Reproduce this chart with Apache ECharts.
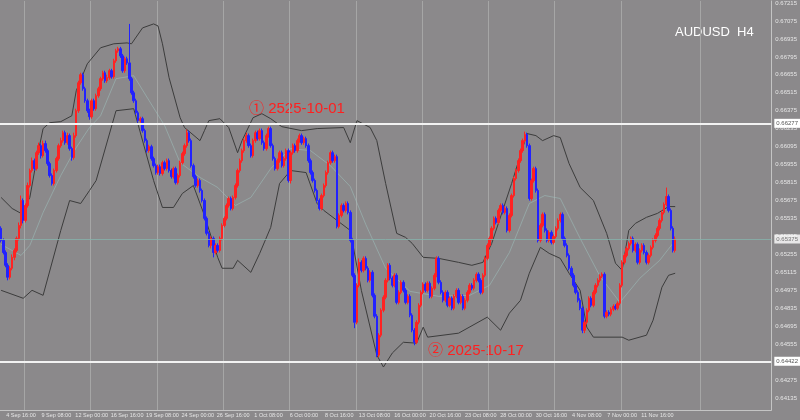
<!DOCTYPE html>
<html><head><meta charset="utf-8">
<script src="https://cdn.jsdelivr.net/npm/echarts@6/dist/echarts.min.js"></script>
<style>html,body{margin:0;padding:0;background:#8b898b}#c{width:800px;height:420px}</style>
</head><body><div id="c"></div>
<script>
// AUDUSD H4 candles, prices in units of 0.00001
const opens = [
65458,65364,65270,65170,65077,65147,65232,65286,65380,65481,
65675,65520,65636,65792,65909,65986,65924,66048,66103,66025,
66119,66064,65963,65870,65808,65909,66002,66103,66142,66204,
66126,66181,66080,66010,66181,66375,66593,66656,66547,66453,
66375,66328,66453,66391,66492,66547,66625,66671,66609,66633,
66687,66640,66764,66842,66858,66803,66687,66780,66748,66625,
66515,66453,66359,66298,66313,66220,66142,66064,66095,66002,
65947,65893,65939,65886,65970,65924,65986,65909,65862,65924,
65815,65870,65970,66041,66103,66204,66142,65947,65862,65792,
65831,65753,65675,65536,65419,65325,65380,65270,65325,65286,
65380,65481,65536,65636,65691,65613,65699,65792,65909,65986,
66064,66142,66181,66103,66025,66142,66204,66158,66220,66126,
66080,66181,66236,66103,66002,65924,65986,66048,65947,66002,
66064,65831,66048,66103,66064,66142,66181,66126,66158,66103,
65986,65893,65831,65753,65675,65613,65714,65792,65893,65970,
66048,65986,66017,65473,65559,65636,65598,65652,65582,65364,
65092,64726,65014,65193,65131,65224,65147,65053,65115,64936,
64773,64470,64625,64820,64921,65053,65170,65069,65014,65092,
64881,64959,65037,64975,64881,64928,64781,64664,64570,64726,
64858,64959,65022,64975,65030,64928,64991,65092,65224,65037,
64959,64897,64959,64858,64913,64835,64928,64975,64881,64928,
64835,64897,64959,65014,64991,65053,65100,65053,64959,65092,
65224,65325,65380,65458,65536,65504,65598,65636,65582,65613,
65442,65559,65714,65847,65909,65986,66064,66142,66189,66103,
65691,65831,65924,65753,65364,65481,65567,65442,65364,65426,
65348,65395,65458,65520,65567,65380,65325,65247,65147,65092,
65014,64959,64897,64835,64664,64726,64820,64913,64858,64959,
65014,65053,65084,65100,64773,64804,64789,64827,64850,64835,
64874,65014,65193,65247,65302,65341,65380,65286,65333,65193,
65286,65325,65270,65193,65247,65310,65364,65403,65458,65520,
65582,65644,65706,65598,65458,65286];
const closes = [
65364,65270,65170,65077,65147,65232,65286,65380,65481,65675,
65520,65636,65792,65909,65986,65924,66048,66103,66025,66119,
66064,65963,65870,65808,65909,66002,66103,66142,66204,66126,
66181,66080,66010,66181,66375,66593,66656,66547,66453,66375,
66328,66453,66391,66492,66547,66625,66671,66609,66633,66687,
66640,66764,66842,66858,66803,66687,66780,66748,66625,66515,
66453,66359,66298,66313,66220,66142,66064,66095,66002,65947,
65893,65939,65886,65970,65924,65986,65909,65862,65924,65815,
65870,65970,66041,66103,66204,66142,65947,65862,65792,65831,
65753,65675,65536,65419,65325,65380,65270,65325,65286,65380,
65481,65536,65636,65691,65613,65699,65792,65909,65986,66064,
66142,66181,66103,66025,66142,66204,66158,66220,66126,66080,
66181,66236,66103,66002,65924,65986,66048,65947,66002,66064,
65831,66048,66103,66064,66142,66181,66126,66158,66103,65986,
65893,65831,65753,65675,65613,65714,65792,65893,65970,66048,
65986,66017,65473,65559,65636,65598,65652,65582,65364,65092,
64726,65014,65193,65131,65224,65147,65053,65115,64936,64773,
64470,64625,64820,64921,65053,65170,65069,65014,65092,64881,
64959,65037,64975,64881,64928,64781,64664,64570,64726,64858,
64959,65022,64975,65030,64928,64991,65092,65224,65037,64959,
64897,64959,64858,64913,64835,64928,64975,64881,64928,64835,
64897,64959,65014,64991,65053,65100,65053,64959,65092,65224,
65325,65380,65458,65536,65504,65598,65636,65582,65613,65442,
65559,65714,65847,65909,65986,66064,66142,66189,66103,65691,
65831,65924,65753,65364,65481,65567,65442,65364,65426,65348,
65395,65458,65520,65567,65380,65325,65247,65147,65092,65014,
64959,64897,64835,64664,64726,64820,64913,64858,64959,65014,
65053,65084,65100,64773,64804,64789,64827,64850,64835,64874,
65014,65193,65247,65302,65341,65380,65286,65333,65193,65286,
65325,65270,65193,65247,65310,65364,65403,65458,65520,65582,
65644,65706,65598,65458,65286,65375];
const highs = [
65474,65380,65286,65186,65163,65255,65302,65395,65504,65714,
65691,65652,65815,65924,66010,66002,66064,66126,66119,66142,
66142,66080,65978,65886,65924,66017,66119,66165,66220,66220,
66204,66197,66095,66204,66391,66609,66671,66671,66562,66469,
66391,66469,66469,66508,66562,66640,66687,66687,66656,66702,
66702,66780,66858,66873,66873,66818,66796,66796,67052,66640,
66531,66469,66375,66328,66328,66235,66158,66110,66110,66017,
65963,65955,65955,65986,65986,66002,66002,65924,65939,65939,
65886,65986,66056,66119,66228,66220,66158,65963,65877,65846,
65846,65768,65691,65551,65434,65395,65395,65341,65341,65395,
65497,65551,65652,65706,65706,65714,65808,65924,66002,66080,
66158,66204,66197,66119,66158,66220,66220,66236,66236,66142,
66197,66251,66251,66119,66017,66002,66064,66064,66017,66080,
66080,66064,66119,66119,66158,66197,66197,66173,66173,66119,
66002,65909,65846,65768,65691,65729,65808,65909,65986,66064,
66064,66033,66033,65575,65652,65652,65668,65668,65598,65380,
65108,65030,65224,65209,65240,65240,65163,65131,65131,64951,
64789,64641,64835,64936,65069,65186,65186,65084,65108,65108,
64975,65053,65053,64991,64944,64944,64796,64680,64742,64874,
64975,65037,65037,65045,65045,65006,65108,65240,65240,65053,
64975,64975,64975,64928,64928,64944,64991,64991,64944,64944,
64913,64975,65030,65030,65069,65115,65115,65069,65108,65240,
65341,65395,65474,65551,65551,65613,65652,65652,65629,65629,
65575,65729,65862,65924,66002,66080,66158,66212,66204,66119,
65846,65939,65939,65768,65497,65582,65582,65458,65442,65442,
65411,65474,65536,65582,65582,65395,65341,65263,65163,65108,
65030,64975,64913,64851,64742,64835,64928,64928,64975,65030,
65069,65100,65115,65115,64820,64820,64843,64866,64866,64889,
65030,65209,65263,65318,65356,65395,65395,65348,65348,65302,
65341,65341,65286,65263,65325,65380,65419,65474,65536,65598,
65660,65776,65722,65613,65474,65395];
const lows = [
65348,65255,65155,65053,65060,65131,65209,65270,65364,65458,
65497,65504,65620,65776,65893,65909,65909,66033,66002,66010,
66048,65947,65854,65792,65792,65893,65986,66087,66126,66110,
66110,66064,65986,65994,66165,66359,66578,66531,66437,66359,
66305,66313,66375,66375,66477,66531,66609,66593,66593,66617,
66625,66625,66749,66827,66787,66671,66671,66733,66609,66500,
66437,66344,66282,66282,66204,66126,66048,66048,65986,65932,
65877,65877,65870,65870,65909,65909,65893,65846,65846,65800,
65800,65854,65955,66025,66087,66126,65932,65846,65776,65776,
65737,65660,65520,65403,65310,65302,65232,65255,65270,65270,
65364,65466,65520,65620,65598,65598,65683,65776,65893,65970,
66048,66126,66087,66010,66010,66126,66142,66142,66110,66064,
66064,66165,66087,65986,65909,65909,65970,65932,65932,65986,
65815,65808,66033,66048,66048,66126,66110,66110,66087,65970,
65877,65815,65737,65660,65598,65598,65699,65776,65877,65955,
65970,65970,65458,65458,65544,65582,65582,65567,65348,65077,
64680,64710,64998,65115,65115,65131,65037,65037,64920,64757,
64454,64454,64609,64804,64905,65037,65053,64998,64998,64866,
64866,64944,64959,64866,64866,64765,64648,64547,64555,64710,
64843,64944,64959,64959,64913,64913,64975,65077,65022,64944,
64881,64881,64843,64843,64820,64820,64913,64866,64866,64820,
64820,64881,64944,64975,64975,65037,65037,64944,64944,65077,
65209,65310,65364,65442,65489,65489,65582,65567,65567,65426,
65426,65544,65699,65831,65893,65970,66048,66126,66087,65675,
65675,65815,65737,65348,65348,65466,65426,65348,65348,65333,
65333,65380,65442,65504,65364,65310,65232,65131,65077,64998,
64944,64881,64820,64641,64641,64710,64804,64843,64843,64944,
64998,65037,65069,64757,64757,64773,64773,64812,64820,64820,
64858,64998,65177,65232,65286,65325,65270,65270,65177,65177,
65270,65255,65177,65177,65232,65294,65348,65388,65442,65504,
65567,65629,65582,65442,65270,65270];

// Bollinger bands: [bar index, price x 100000]
const upperBand = [[0,65699],[5,65613],[9,65575],[13,65699],[16,65986],[19,66236],[22,66282],[27,66290],[32,66336],[34,66531],[39,66741],[45,66866],[51,66897],[57,66904],[59,66897],[64,67021],[69,67052],[71,67036],[73,66897],[76,66633],[81,66321],[83,66244],[90,66142],[92,66220],[94,66298],[99,66313],[103,66244],[107,66048],[109,66142],[114,66321],[118,66352],[122,66313],[127,66251],[136,66220],[143,66236],[155,66244],[158,66126],[161,66298],[167,66244],[170,66142],[174,65808],[179,65419],[183,65388],[186,65341],[191,65232],[198,65224],[207,65193],[213,65170],[218,65193],[222,65341],[231,65808],[238,66197],[242,66181],[245,66142],[250,66181],[253,66166],[257,65963],[262,65777],[268,65675],[274,65419],[278,65186],[281,65131],[284,65442],[287,65497],[292,65544],[297,65575],[302,65628],[305,65628]];
const middleBand = [[0,65333],[9,65247],[13,65325],[19,65582],[27,65870],[34,66088],[40,66244],[45,66336],[52,66625],[60,66648],[67,66453],[74,66259],[81,65970],[90,65855],[98,65777],[106,65636],[113,65699],[122,65924],[131,66080],[140,66064],[149,65947],[158,65784],[165,65489],[174,65147],[185,64967],[198,64928],[212,64936],[221,65014],[230,65270],[239,65652],[246,65714],[253,65691],[262,65380],[271,65084],[280,64881],[289,65069],[298,65209],[305,65364]];
const lowerBand = [[0,64975],[10,64913],[14,64975],[19,64936],[27,65442],[31,65675],[36,65652],[40,65753],[43,65831],[52,66375],[60,66391],[69,65831],[73,65621],[78,65621],[82,65730],[87,65792],[92,65559],[98,65232],[100,65147],[105,65147],[107,65209],[113,65115],[117,65263],[122,65466],[126,65808],[131,65909],[138,65893],[143,65652],[146,65598],[158,65442],[163,64975],[170,64470],[173,64377],[177,64486],[182,64570],[188,64563],[191,64688],[193,64610],[207,64641],[220,64766],[226,64664],[230,64797],[235,64897],[239,65108],[244,65310],[248,65263],[253,65224],[257,65108],[262,64975],[265,64688],[268,64610],[281,64610],[284,64586],[292,64625],[295,64742],[299,64999],[302,65092],[305,65108]];

const priceTicks = [0.64135,0.64275,0.64415,0.64555,0.64695,0.64835,0.64975,0.65115,0.65255,0.65395,0.65535,0.65675,0.65815,0.65955,0.66095,0.66235,0.66375,0.66515,0.66655,0.66795,0.66935,0.67075,0.67215];
const timeLabels = ['4 Sep 16:00','9 Sep 08:00','12 Sep 00:00','16 Sep 16:00','19 Sep 08:00','24 Sep 00:00','26 Sep 16:00','1 Oct 08:00','6 Oct 00:00','8 Oct 16:00','13 Oct 08:00','16 Oct 00:00','20 Oct 16:00','23 Oct 08:00','28 Oct 00:00','30 Oct 16:00','4 Nov 08:00','7 Nov 00:00','11 Nov 16:00'];
const firstLabelBar = 9, labelStep = 16;
const gridLineBars = [11,41,71,101,131,161,191,221,251,281,317];
const totalSlots = 349;
const levelLines = [0.66277, 0.64422];
const lastPrice = 0.65375;
const yMin = 0.64042, yMax = 0.67231;

const S = 1e5;
const slots = Array.from({length: totalSlots}, (_, i) => String(i));
const candleData = closes.map((c, i) => [opens[i] / S, c / S, lows[i] / S, highs[i] / S]);
const toPairs = arr => arr.map(p => [p[0], p[1] / S]);

const boxLabel = {
  show: true, position: 'end', distance: 3,
  formatter: p => Number(p.value).toFixed(5),
  backgroundColor: '#ffffff', color: '#555', fontSize: 6,
  padding: [2, 2, 1, 2], fontFamily: 'Liberation Sans'
};

const chart = echarts.init(document.getElementById('c'), null, {renderer: 'canvas'});
chart.setOption({
  animation: false,
  backgroundColor: '#8b898b',
  grid: {left: 0, right: 28, top: 0, bottom: 10},
  xAxis: {
    type: 'category', data: slots, boundaryGap: true,
    axisLine: {show: true, lineStyle: {color: '#c4c4c4', width: 1}},
    axisTick: {show: false},
    axisLabel: {
      interval: i => i >= firstLabelBar && (i - firstLabelBar) % labelStep === 0 && (i - firstLabelBar) / labelStep < timeLabels.length,
      formatter: (v, i) => timeLabels[(Number(v) - firstLabelBar) / labelStep] || '',
      fontSize: 5.5, color: '#e6e6e6', margin: 2, fontFamily: 'Liberation Sans'
    },
    splitLine: {show: true, interval: i => gridLineBars.includes(i), lineStyle: {color: '#a6a6a6', width: 1}}
  },
  yAxis: {
    type: 'value', position: 'right', min: yMin, max: yMax, scale: true,
    axisLine: {show: true, lineStyle: {color: '#c4c4c4', width: 1}},
    axisTick: {show: false},
    splitLine: {show: false},
    axisLabel: {
      customValues: priceTicks,
      formatter: v => v.toFixed(5),
      fontSize: 6, color: '#e6e6e6', margin: 4, fontFamily: 'Liberation Sans'
    }
  },
  series: [
    {
      type: 'line', data: toPairs(upperBand), symbol: 'none', silent: true,
      lineStyle: {color: '#3c3c3c', width: 1}, z: 2
    },
    {
      type: 'line', data: toPairs(lowerBand), symbol: 'none', silent: true,
      lineStyle: {color: '#3c3c3c', width: 1}, z: 2
    },
    {
      type: 'line', data: toPairs(middleBand), symbol: 'none', silent: true,
      lineStyle: {color: '#9fc4c0', width: 1, opacity: 0.5}, z: 2
    },
    {
      type: 'candlestick', data: candleData, barWidth: 2, z: 3,
      itemStyle: {color: '#ff2222', color0: '#2222ff', borderColor: '#ff2222', borderColor0: '#2222ff', borderWidth: 1},
      markLine: {
        symbol: 'none', silent: true, animation: false, precision: 5,
        data: [
          {yAxis: levelLines[0], lineStyle: {color: '#f2f2f2', width: 2, type: 'solid'}, label: boxLabel},
          {yAxis: levelLines[1], lineStyle: {color: '#f2f2f2', width: 2, type: 'solid'}, label: boxLabel},
          {yAxis: lastPrice, lineStyle: {color: '#86b3ab', width: 1, type: 'solid', opacity: 0.8}, label: boxLabel}
        ]
      }
    }
  ],
  graphic: [
    {type: 'text', left: 675, top: 26, silent: true,
     style: {text: 'AUDUSD  H4', fill: '#ffffff', font: '13px "Liberation Sans"'}},
    {type: 'text', left: 249, top: 101, silent: true,
     style: {text: '① 2525-10-01', fill: '#ff2020', font: '15px "Liberation Sans", "Noto Sans CJK JP"'}},
    {type: 'text', left: 428, top: 343, silent: true,
     style: {text: '② 2025-10-17', fill: '#ff2020', font: '15px "Liberation Sans", "Noto Sans CJK JP"'}}
  ]
});
</script>
</body></html>
